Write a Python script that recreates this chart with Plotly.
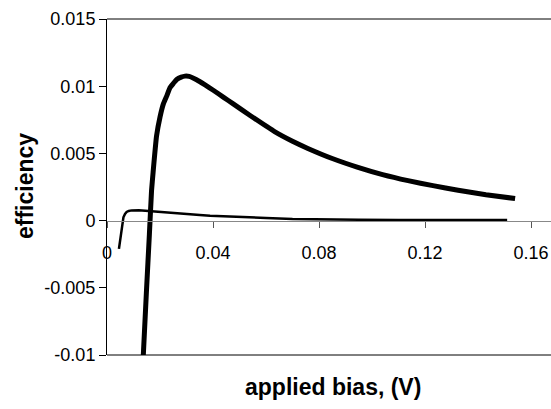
import plotly.graph_objects as go

# Thick curve (main efficiency)
bias_main = [0.0137, 0.0149, 0.0160, 0.0168, 0.0174, 0.0187, 0.0200, 0.0213, 0.0226, 0.0238,
             0.0250, 0.0263, 0.0280, 0.0294, 0.0310, 0.0338, 0.0370, 0.0401, 0.0440, 0.0475,
             0.0540, 0.0634, 0.0700, 0.0758, 0.0850, 0.0947, 0.1040, 0.1136, 0.1230, 0.1325,
             0.1430, 0.1540]
eff_main = [-0.0100, -0.0052, -0.0010, 0.0022, 0.0036, 0.0063, 0.0077, 0.0087, 0.0093, 0.0099,
            0.0102, 0.0105, 0.01068, 0.01075, 0.01073, 0.01048, 0.01010, 0.00970, 0.00917, 0.00870,
            0.00782, 0.00660, 0.00590, 0.00537, 0.00462, 0.00396, 0.00342, 0.00297, 0.00260, 0.00226,
            0.00193, 0.00164]

# Thin curve
bias_thin = [0.0045, 0.0050, 0.0055, 0.0062, 0.0068, 0.0074, 0.0082, 0.0093, 0.0120, 0.0162,
             0.0220, 0.0275, 0.0350, 0.0389, 0.0475, 0.0600, 0.0700, 0.0800, 0.0950, 0.1100,
             0.1300, 0.1510]
eff_thin = [-0.0021, -0.0013, -0.0005, 0.00025, 0.00050, 0.00064, 0.00072, 0.00076, 0.00077, 0.00070,
            0.00060, 0.00050, 0.00042, 0.00037, 0.00032, 0.00020, 0.00012, 0.00008, 0.00006, 0.00005,
            0.00004, 0.00004]

x_ticks = [0, 0.04, 0.08, 0.12, 0.16]
x_ticklabels = ["0", "0.04", "0.08", "0.12", "0.16"]
y_ticks = [-0.01, -0.005, 0, 0.005, 0.01, 0.015]
y_ticklabels = ["-0.01", "-0.005", "0", "0.005", "0.01", "0.015"]

x_title = "applied bias, (V)"
y_title = "efficiency"

W, H = 551, 409
ML, MR, MT = 107, 0, 19
MB = H - 355
x_max = 0.04 * (W - ML) / 106.0
y_min, y_max = -0.01, 0.015
PW, PH = W - ML - MR, H - MT - MB

fig = go.Figure()
fig.add_trace(go.Scatter(x=bias_thin, y=eff_thin, mode="lines",
                         line=dict(color="black", width=2.5), showlegend=False))
fig.add_trace(go.Scatter(x=bias_main, y=eff_main, mode="lines",
                         line=dict(color="black", width=5, shape="spline", smoothing=0.4),
                         showlegend=False))

tickfont = dict(family="Liberation Sans, Arial, sans-serif", size=18, color="black")
titlefont = dict(family="Liberation Sans, Arial, sans-serif", size=23, color="black")

fig.update_layout(
    width=W, height=H,
    margin=dict(l=ML, r=MR, t=MT, b=MB, pad=0, autoexpand=False),
    paper_bgcolor="white", plot_bgcolor="white",
    xaxis=dict(range=[0, x_max], anchor="free", position=(0 - y_min) / (y_max - y_min),
               automargin=False,
               showgrid=False, zeroline=False, showline=True, linecolor="#888888", linewidth=1,
               ticks="outside", ticklen=6, tickwidth=1, tickcolor="#555555",
               tickvals=x_ticks, ticktext=x_ticklabels, tickfont=tickfont,
               ticklabelstandoff=10),
    yaxis=dict(range=[y_min, y_max], showgrid=False, zeroline=False, automargin=False,
               showline=True, linecolor="black", linewidth=1,
               ticks="outside", ticklen=7, tickwidth=1, tickcolor="black",
               tickvals=y_ticks, ticktext=y_ticklabels, tickfont=tickfont),
    shapes=[
        dict(type="line", xref="paper", yref="paper", x0=0, x1=1, y0=1, y1=1,
             line=dict(color="black", width=1)),
        dict(type="line", xref="paper", yref="paper", x0=0, x1=1, y0=0, y1=0,
             line=dict(color="black", width=1)),
    ],
    annotations=[
        dict(text="<b>" + x_title + "</b>", xref="paper", yref="paper",
             x=(333 - ML) / PW, y=-(387 - 355) / PH,
             showarrow=False, font=titlefont, xanchor="center", yanchor="middle"),
        dict(text="<b>" + y_title + "</b>", xref="paper", yref="paper",
             x=-(ML - 25) / PW, y=(355 - 186) / PH,
             showarrow=False, font=titlefont, textangle=-90,
             xanchor="center", yanchor="middle"),
    ],
)

fig.write_html(
    "out.html",
    config={"displayModeBar": False, "staticPlot": True},
    post_script="document.body.style.margin='0';document.body.style.overflow='hidden';",
)
